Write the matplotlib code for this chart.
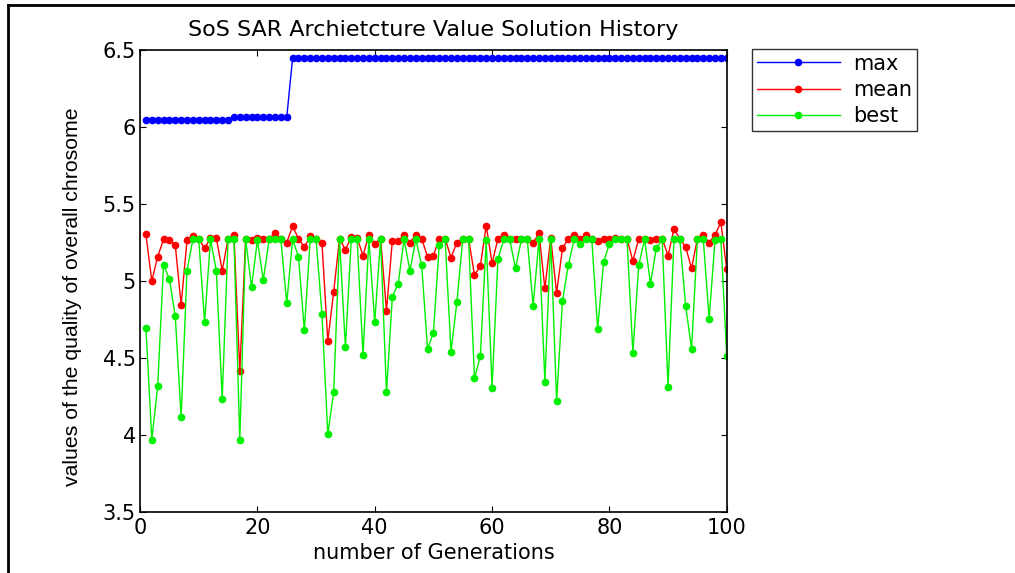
import matplotlib
matplotlib.use('Agg')
import matplotlib.pyplot as plt
from matplotlib.lines import Line2D
import numpy as np

plt.rcParams["font.family"] = ["DejaVu Sans"]

# generation numbers
generations = list(range(1, 101))

# best chromosome value found so far
max_vals = [6.045] * 15 + [6.063] * 10 + [6.448] * 75

# mean value of the population per generation
mean_vals = [
    5.303, 5.000, 5.158, 5.270, 5.264, 5.234, 4.846, 5.264, 5.294, 5.275,
    5.212, 5.280, 5.280, 5.067, 5.275, 5.300, 4.414, 5.275, 5.264, 5.280,
    5.275, 5.275, 5.310, 5.275, 5.250, 5.355, 5.275, 5.220, 5.290, 5.275,
    5.250, 4.610, 4.930, 5.275, 5.203, 5.285, 5.280, 5.165, 5.300, 5.242,
    5.275, 4.807, 5.260, 5.260, 5.300, 5.250, 5.300, 5.275, 5.158, 5.165,
    5.275, 5.275, 5.151, 5.250, 5.275, 5.275, 5.039, 5.097, 5.360, 5.115,
    5.275, 5.300, 5.275, 5.275, 5.275, 5.275, 5.250, 5.310, 4.952, 5.280,
    4.922, 5.212, 5.275, 5.300, 5.275, 5.300, 5.275, 5.260, 5.275, 5.275,
    5.280, 5.275, 5.275, 5.130, 5.275, 5.275, 5.264, 5.275, 5.275, 5.165,
    5.338, 5.275, 5.220, 5.082, 5.275, 5.300, 5.250, 5.300, 5.380, 5.076,
]

# best value of the current generation
best_vals = [
    4.695, 3.970, 4.316, 5.104, 5.013, 4.770, 4.117, 5.067, 5.270, 5.270,
    4.734, 5.270, 5.067, 4.232, 5.270, 5.270, 3.970, 5.270, 4.960, 5.264,
    5.006, 5.270, 5.270, 5.270, 4.855, 5.270, 5.158, 4.680, 5.270, 5.270,
    4.786, 4.006, 4.277, 5.270, 4.570, 5.270, 5.270, 4.520, 5.270, 4.734,
    5.270, 4.277, 4.898, 4.983, 5.270, 5.067, 5.270, 5.104, 4.558, 4.664,
    5.234, 5.270, 4.541, 4.862, 5.270, 5.270, 4.368, 4.513, 5.264, 4.307,
    5.143, 5.270, 5.270, 5.082, 5.270, 5.270, 4.840, 5.270, 4.346, 5.270,
    4.223, 4.870, 5.104, 5.270, 5.242, 5.270, 5.270, 4.686, 5.121, 5.242,
    5.270, 5.270, 5.270, 4.535, 5.104, 5.270, 4.983, 5.212, 5.270, 4.314,
    5.270, 5.270, 4.840, 4.558, 5.270, 5.270, 4.755, 5.264, 5.270, 4.513,
]

x_ticks = [0, 20, 40, 60, 80, 100]
y_ticks = [3.5, 4, 4.5, 5, 5.5, 6, 6.5]
y_tick_labels = ['3.5', '4', '4.5', '5', '5.5', '6', '6.5']

fig = plt.figure(figsize=(10.15, 5.73), dpi=100)
ax = fig.add_axes([0.138, 0.1065, 0.578, 0.8062])

ms = 4.5
ax.plot(generations, max_vals, '-o', color='#0000ff', lw=1.0, ms=ms, label='max')
ax.plot(generations, mean_vals, '-o', color='#ff0000', lw=1.0, ms=ms, label='mean')
ax.plot(generations, best_vals, '-o', color='#00f000', lw=1.0, ms=ms, label='best')

ax.set_xlim(0, 100)
ax.set_ylim(3.5, 6.5)
ax.set_xticks(x_ticks)
ax.set_yticks(y_ticks)
ax.set_yticklabels(y_tick_labels)
ax.tick_params(direction='in', top=True, right=True, length=4, width=0.8,
               labelsize=15)
ax.tick_params(axis='x', pad=4)
ax.tick_params(axis='y', pad=3)
for s in ax.spines.values():
    s.set_linewidth(1.2)

ax.set_title('SoS SAR Archietcture Value Solution History', fontsize=16, pad=10)
ax.set_xlabel('number of Generations', fontsize=15, labelpad=4)
ax.set_ylabel('values of the quality of overall chrosome', fontsize=15.3,
              family=['Liberation Sans', 'DejaVu Sans'])
ax.yaxis.set_label_coords(-0.099, 0.465)

leg = fig.legend(loc='upper left', bbox_to_anchor=(0.741, 0.9145), fontsize=15,
                 frameon=True, fancybox=False, edgecolor='black',
                 borderaxespad=0, handlelength=4.0, borderpad=0.22,
                 labelspacing=0.3, handletextpad=0.64)
leg.get_frame().set_linewidth(1.0)

# frame around the figure (left and top edges)
fig.add_artist(Line2D([0.0075, 0.0075], [0, 0.991], transform=fig.transFigure,
                      color='black', lw=2))
fig.add_artist(Line2D([0.0075, 1.0], [0.991, 0.991], transform=fig.transFigure,
                      color='black', lw=2))

fig.savefig('out.png', dpi=100)
